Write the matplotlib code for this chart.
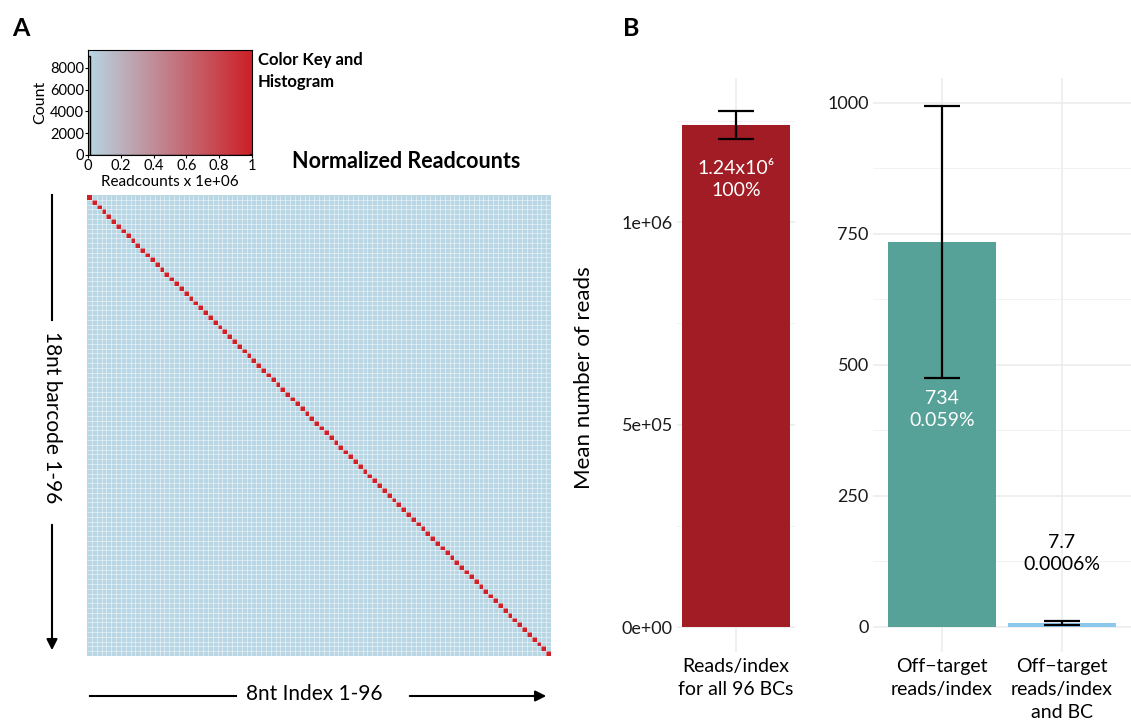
import matplotlib
matplotlib.use("Agg")
import matplotlib.pyplot as plt
from matplotlib.colors import LinearSegmentedColormap
import numpy as np

plt.rcParams['font.family'] = ['Lato', 'DejaVu Sans']

# panel A: normalized readcounts, 8nt index x 18nt barcode
n_wells = 96
on_target_norm = 1.0
off_target_norm = 7.7 / 1.24e6

# panel B: mean reads per index
left_cats = ['Reads/index\nfor all 96 BCs']
left_means = [1.24e6]
left_errs = [0.034e6]
left_labels = ['1.24x10\u2076\n100%']

right_cats = ['Off\u2212target\nreads/index', 'Off\u2212target\nreads/index\nand BC']
right_means = [734, 7.7]
right_errs = [259, 3.5]
right_labels = ['734\n0.059%', '7.7\n0.0006%']

W, H = 1131, 723
fig = plt.figure(figsize=(W / 100, H / 100), dpi=100)


def box(l, t, r, b):
    return [l / W, 1 - b / H, (r - l) / W, (b - t) / H]


def fx(x):
    return x / W


def fy(y):
    return 1 - y / H


cmap = LinearSegmentedColormap.from_list('key', ['#B8D6E4', '#CD2027'])

readcounts = np.full((n_wells, n_wells), off_target_norm)
np.fill_diagonal(readcounts, on_target_norm)

# heatmap
ax_hm = fig.add_axes(box(87, 195, 551, 656))
ax_hm.pcolormesh(np.arange(n_wells + 1), np.arange(n_wells + 1), readcounts,
                 cmap=cmap, vmin=0, vmax=1)
ax_hm.vlines(np.arange(1, n_wells), 0, n_wells, color='white', lw=0.6, alpha=0.55)
ax_hm.hlines(np.arange(1, n_wells), 0, n_wells, color='white', lw=0.6, alpha=0.55)
ax_hm.set_xlim(0, n_wells)
ax_hm.set_ylim(n_wells, 0)
ax_hm.axis('off')

# color key with histogram
ax_key = fig.add_axes(box(88, 50, 252, 155))
ax_key.imshow(np.linspace(0, 1, 256)[None, :], cmap=cmap, aspect='auto',
              extent=[0, 1, 0, 9650], origin='lower')
ax_key.hist(readcounts.ravel(), bins=np.linspace(0, 1, 101), histtype='step',
            color='black', lw=1)
ax_key.set_xlim(0, 1)
ax_key.set_ylim(0, 9650)
ax_key.set_xticks([0, 0.2, 0.4, 0.6, 0.8, 1])
ax_key.set_xticklabels(['0', '0.2', '0.4', '0.6', '0.8', '1'])
ax_key.set_yticks([0, 2000, 4000, 6000, 8000])
ax_key.tick_params(labelsize=10.5, length=2, pad=1)
ax_key.set_xlabel('Readcounts x 1e+06', fontsize=11, labelpad=1)
ax_key.set_ylabel('Count', fontsize=11.5, labelpad=2)
for s in ax_key.spines.values():
    s.set_linewidth(0.8)

fig.text(fx(258), fy(71), 'Color Key and\nHistogram', fontsize=12, fontweight='bold',
         va='center', ha='left', linespacing=1.45)
fig.text(fx(406), fy(161), 'Normalized Readcounts', fontsize=15.5, fontweight='bold',
         ha='center', va='center')

# axis arrows around the heatmap
arrow = dict(arrowstyle='-|>', color='black', lw=1.5, mutation_scale=16)
fig.add_artist(plt.Line2D([fx(52), fx(52)], [fy(195), fy(320)], color='black', lw=1.5))
fig.patches.append(matplotlib.patches.FancyArrowPatch(
    (fx(52), fy(522)), (fx(52), fy(653)), transform=fig.transFigure, **arrow))
fig.text(fx(52), fy(417), '18nt barcode 1-96', rotation=270, fontsize=15,
         ha='center', va='center')

fig.add_artist(plt.Line2D([fx(90), fx(236)], [fy(696), fy(696)], color='black', lw=1.5))
fig.patches.append(matplotlib.patches.FancyArrowPatch(
    (fx(407), fy(696)), (fx(549), fy(696)), transform=fig.transFigure, **arrow))
fig.text(fx(314), fy(694), '8nt Index 1-96', fontsize=15, ha='center', va='center')

fig.text(fx(21), fy(28), 'A', fontsize=18, fontweight='bold', ha='center', va='center')
fig.text(fx(631), fy(29), 'B', fontsize=18, fontweight='bold', ha='center', va='center')


def style_bar_axes(ax):
    for s in ax.spines.values():
        s.set_visible(False)
    ax.set_axisbelow(True)
    ax.grid(True, which='major', color='#EBEBEB', lw=1.1)
    ax.grid(True, which='minor', axis='y', color='#F2F2F2', lw=0.7)
    ax.tick_params(axis='both', length=0, labelsize=13, colors='#1A1A1A')
    ax.tick_params(axis='x', labelsize=14, pad=4, colors='black')
    ax.tick_params(axis='y', pad=3)
    ax.tick_params(axis='y', which='minor', length=0)


# left bar panel
ax_l = fig.add_axes(box(677, 78, 795, 652))
pos_l = np.arange(1, len(left_cats) + 1)
ax_l.bar(pos_l, left_means, width=0.9, color='#A11C25')
ax_l.errorbar(pos_l, left_means, yerr=left_errs, fmt='none', ecolor='black',
              elinewidth=1.6, capsize=13, capthick=1.6)
ax_l.set_xlim(1 - 0.492, 1 + 0.492)
ax_l.set_ylim(-0.0617e6, 1.356e6)
ax_l.set_yticks([0, 0.5e6, 1e6])
ax_l.set_yticklabels(['0e+00', '5e+05', '1e+06'])
ax_l.set_yticks([0.25e6, 0.75e6, 1.25e6], minor=True)
ax_l.set_xticks(pos_l)
ax_l.set_xticklabels(left_cats, linespacing=1.45, va='top')
style_bar_axes(ax_l)
for p, m, lab in zip(pos_l, left_means, left_labels):
    ax_l.annotate(lab, (p, m), xytext=(0, -25), textcoords='offset points',
                  ha='center', va='top', color='white', fontsize=14, linespacing=1.35)
ax_l.set_ylabel('Mean number of reads', fontsize=16)
ax_l.yaxis.set_label_coords(-(677 - 594) / 118, (652 - 378) / 574)

# right bar panel
ax_r = fig.add_axes(box(873, 78, 1131, 652))
pos_r = np.arange(1, len(right_cats) + 1)
ax_r.bar(pos_r, right_means, width=0.9, color=['#56A198', '#8CC8EE'])
ax_r.errorbar(pos_r, right_means, yerr=right_errs, fmt='none', ecolor='black',
              elinewidth=1.6, capsize=13, capthick=1.6)
ax_r.set_xlim(0.425, 2.575)
ax_r.set_ylim(-47.7, 1047)
ax_r.set_yticks([0, 250, 500, 750, 1000])
ax_r.set_yticks([125, 375, 625, 875], minor=True)
ax_r.set_xticks(pos_r)
ax_r.set_xticklabels(right_cats, linespacing=1.45, va='top')
style_bar_axes(ax_r)
ax_r.text(pos_r[0], right_means[0] - 282, right_labels[0], ha='center', va='top',
          color='white', fontsize=14, linespacing=1.35)
ax_r.text(pos_r[1], right_means[1] + 95, right_labels[1], ha='center', va='bottom',
          color='black', fontsize=14, linespacing=1.35)

fig.savefig('out.png', dpi=100)
